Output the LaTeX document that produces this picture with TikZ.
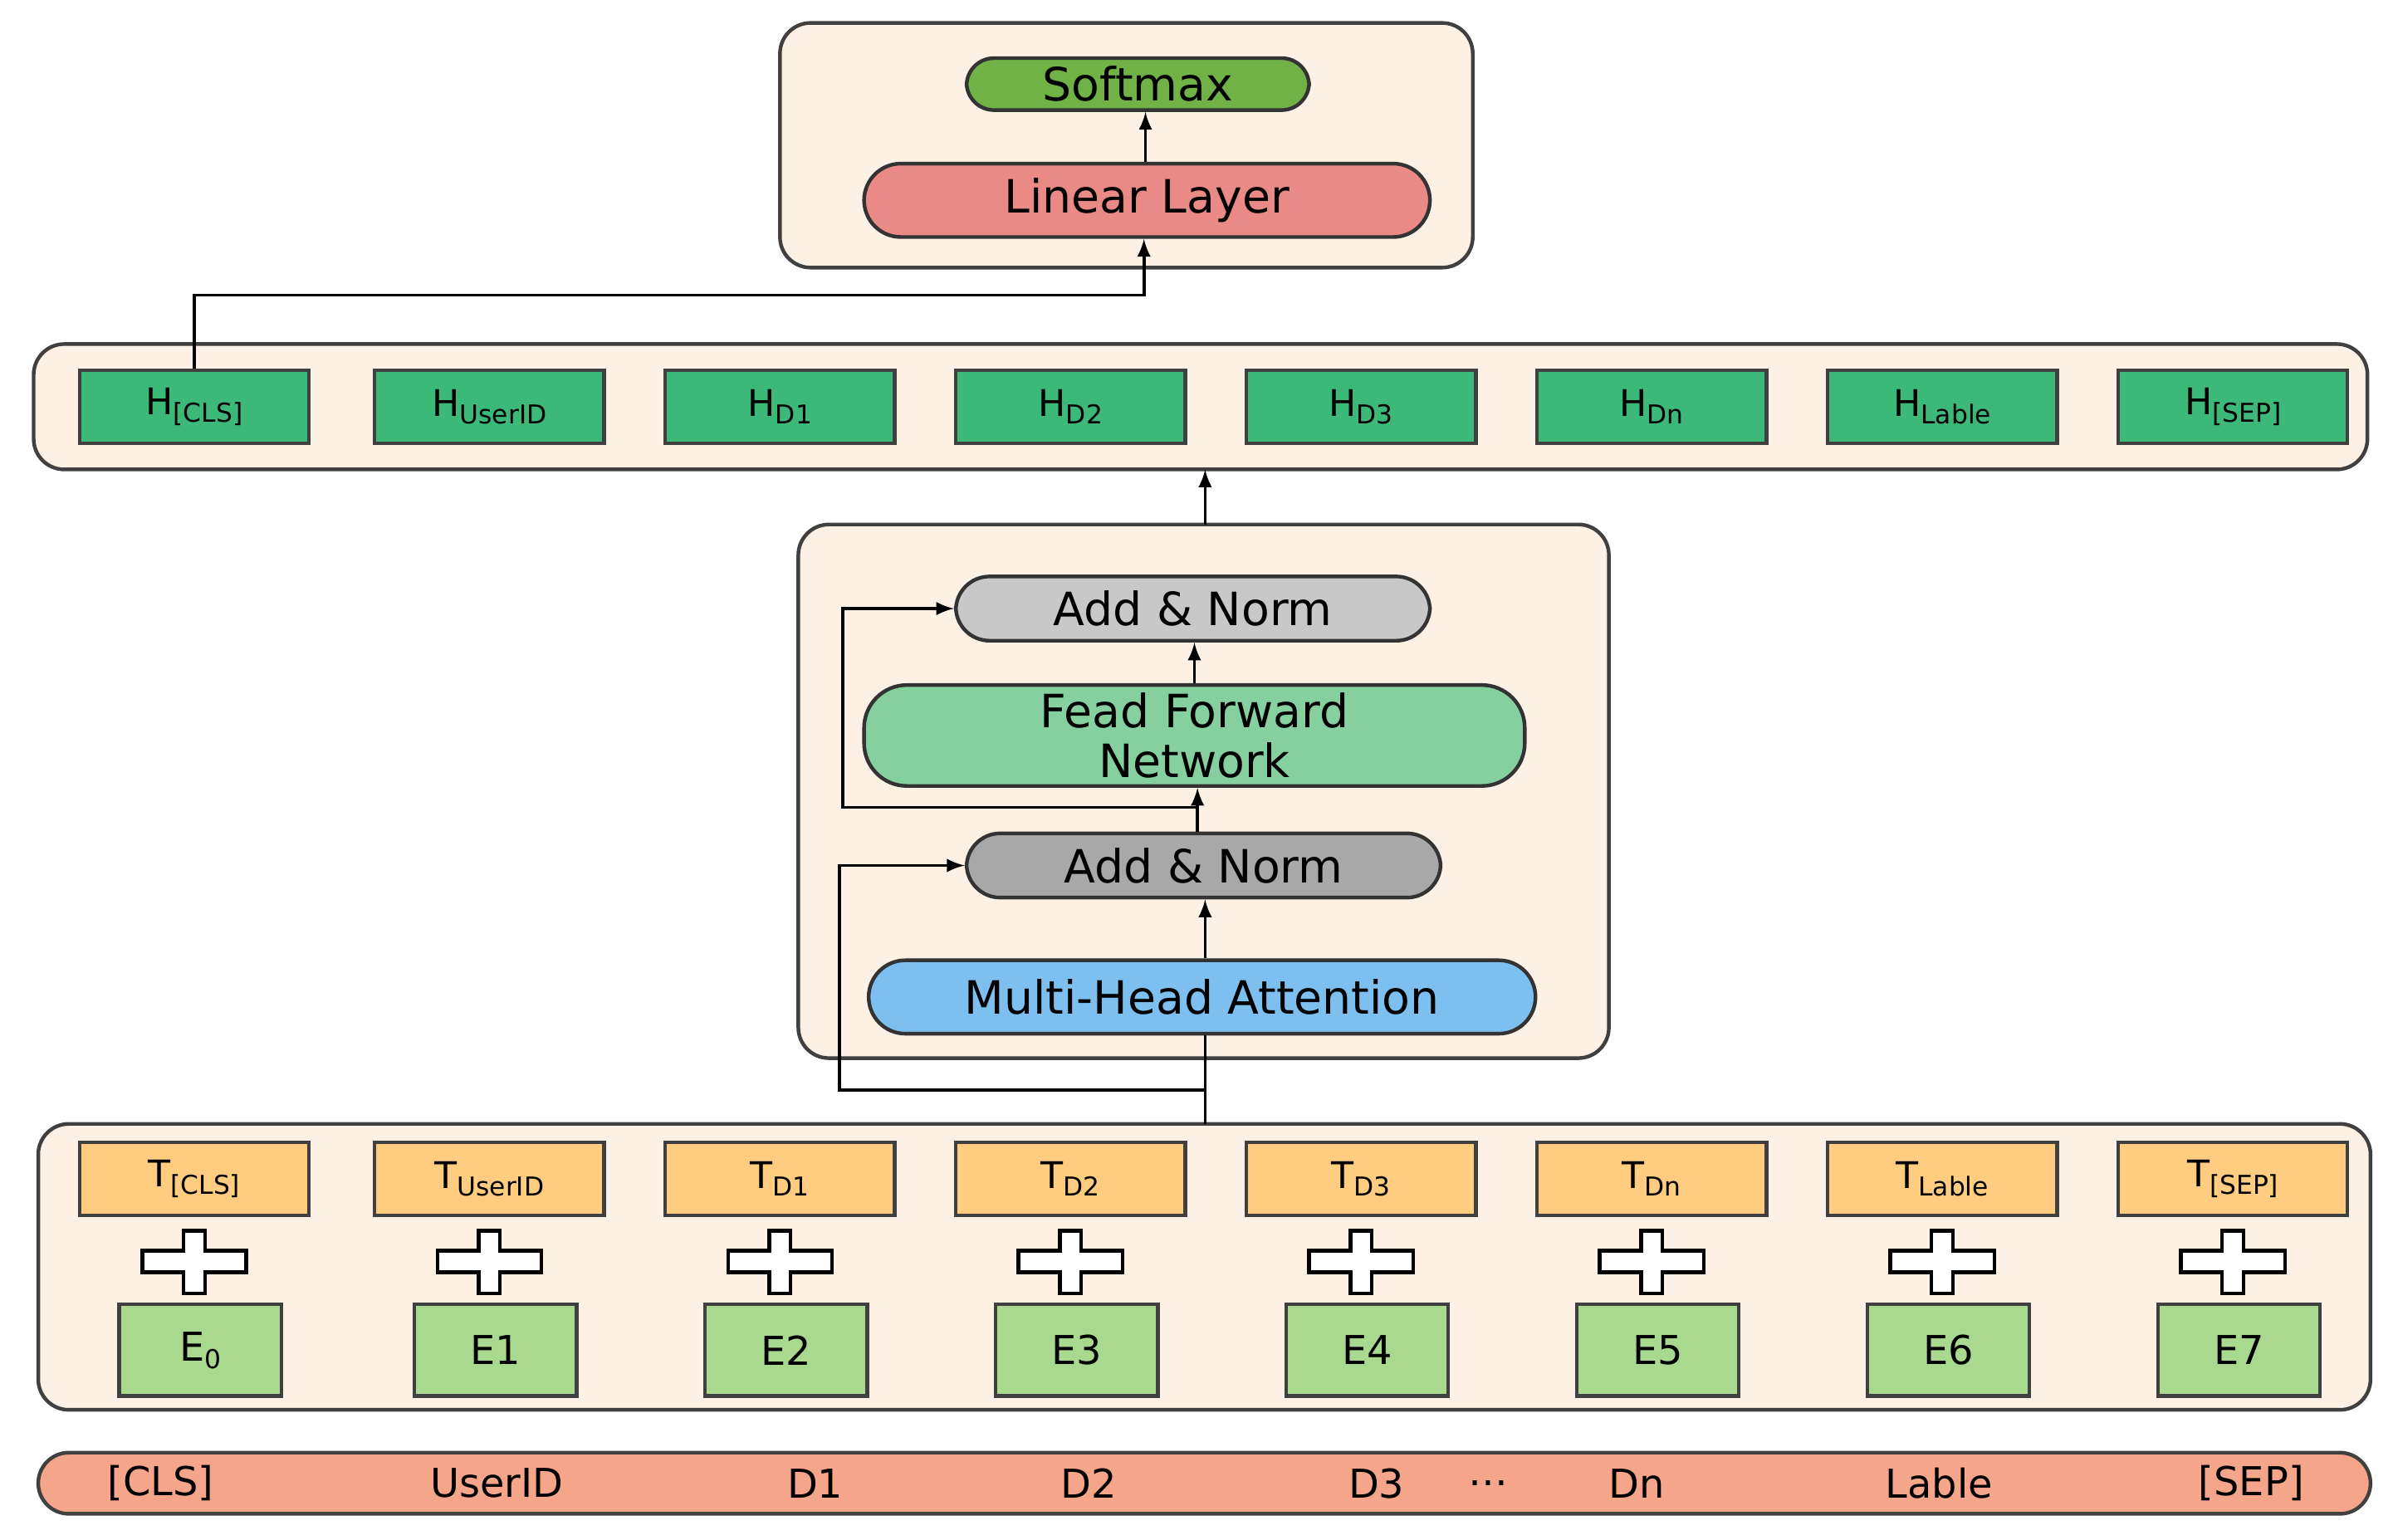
\documentclass[tikz,border=0pt]{standalone}
\usepackage{fontspec}
\setmainfont{DejaVu Sans}
\usetikzlibrary{positioning}
\definecolor{panel}{RGB}{253,241,229}
\definecolor{softgreen}{RGB}{112,178,70}
\definecolor{linred}{RGB}{234,138,134}
\definecolor{hgreen}{RGB}{60,184,120}
\definecolor{addgray1}{RGB}{200,200,200}
\definecolor{addgray2}{RGB}{168,168,168}
\definecolor{ffgreen}{RGB}{134,208,160}
\definecolor{mhblue}{RGB}{125,192,240}
\definecolor{torange}{RGB}{255,204,128}
\definecolor{egreen}{RGB}{169,217,142}
\definecolor{barsalmon}{RGB}{244,165,138}
\tikzset{
  panel/.style={draw=black!75, line width=1.2pt, fill=panel, rounded corners=10pt},
  pill/.style={draw=black!80, line width=1.2pt, rounded corners=18pt, font=\fontsize{15}{17}\selectfont},
  cell/.style={draw=black!75, line width=1.2pt, minimum width=75pt, minimum height=24pt, inner sep=0pt, font=\fontsize{12}{14}\selectfont},
  ebox/.style={draw=black!75, line width=1.2pt, fill=egreen, minimum width=53pt, minimum height=30pt, inner sep=0pt, font=\fontsize{13}{15}\selectfont},
  link/.style={line width=1pt, -latex},
  wire/.style={line width=1pt}
}
\newcommand{\sub}[1]{\raisebox{-0.35ex}{\fontsize{8.5}{9}\selectfont #1}}
\begin{document}
\begin{tikzpicture}[x=0.5pt,y=0.5pt,yscale=-1]
\path[use as bounding box] (0,0) rectangle (1568,1007);
% panels
\draw[panel] (510,15) rectangle (963,175);
\draw[panel] (22,225) rectangle (1548,307);
\draw[panel] (522,343) rectangle (1052,692);
\draw[panel] (25,735) rectangle (1550,922);
\draw[draw=black!75, line width=1.2pt, fill=barsalmon, rounded corners=10pt] (25,950) rectangle (1550,990);
% classifier head
\node[pill, fill=softgreen, minimum width=112pt, minimum height=17pt, inner sep=0pt, rounded corners=9pt] (softmax) at (744,55) {Softmax};
\node[pill, fill=linred, minimum width=185pt, minimum height=24pt, inner sep=0pt, rounded corners=12pt] (linear) at (750,131) {Linear Layer};
\draw[link] (linear.north -| 749,0) -- (softmax.south -| 749,0);
% encoder block
\node[pill, fill=addgray1, minimum width=155pt, minimum height=21pt, inner sep=0pt, rounded corners=11pt] (norma) at (780,398) {Add \& Norm};
\node[pill, fill=ffgreen, minimum width=216pt, minimum height=33pt, inner sep=0pt, align=center, rounded corners=14pt, font=\fontsize{15}{16.5}\selectfont] (ffn) at (781,481) {Fead Forward\\Network};
\node[pill, fill=addgray2, minimum width=155pt, minimum height=21pt, inner sep=0pt, rounded corners=11pt] (normb) at (787,566) {Add \& Norm};
\node[pill, fill=mhblue, minimum width=218pt, minimum height=24pt, inner sep=0pt, rounded corners=12pt] (mha) at (786,652) {Multi-Head Attention};
\draw[link] (mha.north -| 788,0) -- (normb.south -| 788,0);
\draw[link] (normb.north -| 783,0) -- (ffn.south -| 783,0);
\draw[link] (ffn.north -| 781,0) -- (norma.south -| 781,0);
\coordinate (resa) at (783,528);
\coordinate (resb) at (788,713);
\draw[link] (resa) -- (551,528) -- (551,398) -- (norma.west);
\draw[link] (resb) -- (549,713) -- (549,566) -- (normb.west);
\draw[wire] (788,735) -- (mha.south -| 788,0);
\draw[link] (788,343) -- (788,307);
% hidden, token and embedding rows
\foreach \x/\n/\h/\t/\e [count=\i] in {
  127/cls/{H\sub{[CLS]}}/{T\sub{[CLS]}}/{E\sub{0}},
  320/uid/{H\sub{UserID}}/{T\sub{UserID}}/E1,
  510/da/{H\sub{D1}}/{T\sub{D1}}/E2,
  700/db/{H\sub{D2}}/{T\sub{D2}}/E3,
  890/dc/{H\sub{D3}}/{T\sub{D3}}/E4,
  1080/dn/{H\sub{Dn}}/{T\sub{Dn}}/E5,
  1270/lab/{H\sub{Lable}}/{T\sub{Lable}}/E6,
  1460/sep/{H\sub{[SEP]}}/{T\sub{[SEP]}}/E7} {
  \node[cell, fill=hgreen] (h-\n) at (\x,266) {\h};
  \node[cell, fill=torange] (t-\n) at (\x,771) {\t};
  \node[ebox] (e-\n) at (\x+4,883) {\e};
  \draw[line width=1.2pt, fill=white] (\x-7,805) -- (\x+7,805) -- (\x+7,818) -- (\x+34,818) -- (\x+34,832)
    -- (\x+7,832) -- (\x+7,846) -- (\x-7,846) -- (\x-7,832) -- (\x-34,832) -- (\x-34,818)
    -- (\x-7,818) -- cycle;
}
\draw[link] (h-cls.north) -- (127,193) -- (748,193) -- (linear.south -| 748,0);
% input sequence
\foreach \x/\w in {105/{[CLS]},325/UserID,533/D1,712/D2,900/D3,973/{\dots},1070/Dn,1268/Lable,1472/{[SEP]}}
  \node[font=\fontsize{13}{15}\selectfont] at (\x,970) {\w};
\end{tikzpicture}
\end{document}
